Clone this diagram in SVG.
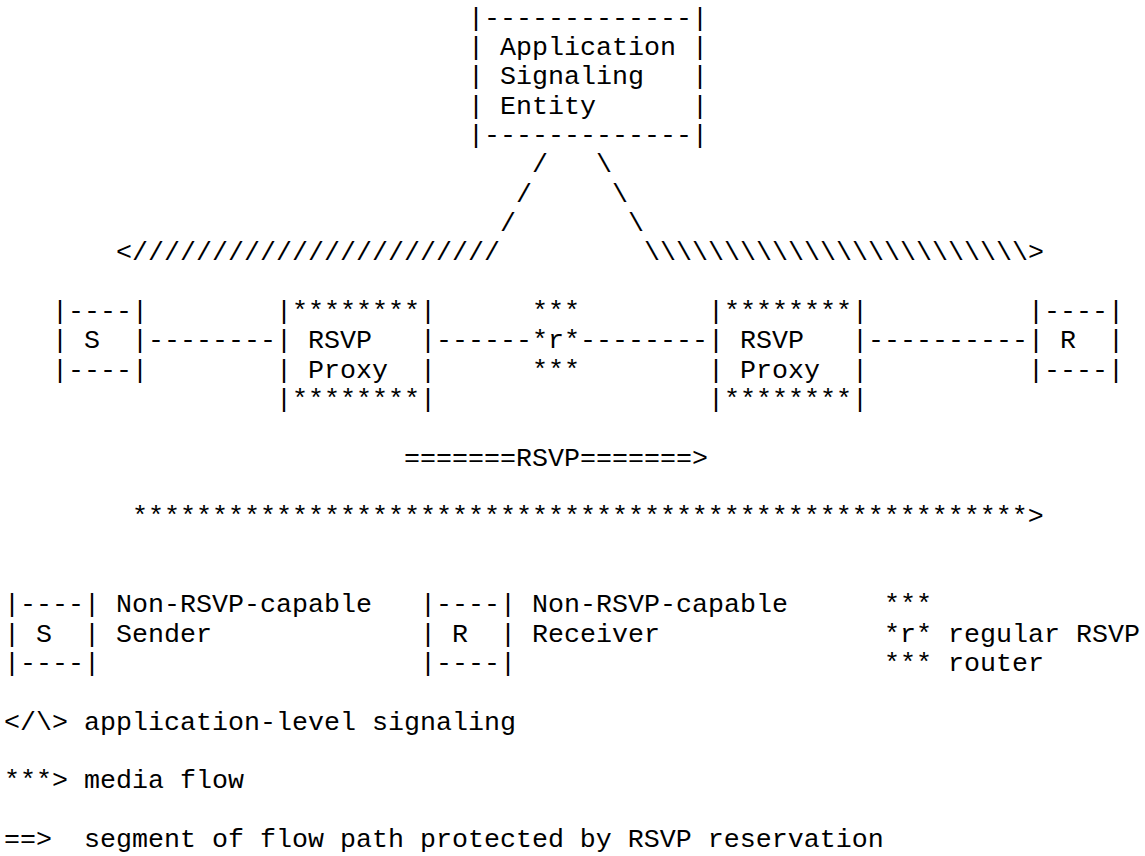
<svg xmlns="http://www.w3.org/2000/svg" width="1145" height="856" viewBox="0 0 1145 856" xml:space="preserve">
<style>
text { font-family: "Liberation Mono", "Courier New", monospace; font-size: 26.67px; fill: #000; white-space: pre; }
</style>
<rect x="0" y="0" width="1145" height="856" fill="#ffffff"/>
<g id="app-signaling-entity">
<text x="468" y="25.7">|-------------|</text>
<text x="468" y="55">| Application |</text>
<text x="468" y="84.4">| Signaling   |</text>
<text x="468" y="113.7">| Entity      |</text>
<text x="468" y="143">|-------------|</text>
</g>
<g id="connectors">
<text x="532" y="172.4">/   \</text>
<text x="516" y="201.7">/     \</text>
<text x="500" y="231">/       \</text>
<text x="116" y="260.3">&lt;///////////////////////</text>
<text x="644" y="260.3">\\\\\\\\\\\\\\\\\\\\\\\\&gt;</text>
<text x="148" y="348.3">--------</text>
<text x="436" y="348.3">------</text>
<text x="580" y="348.3">--------</text>
<text x="868" y="348.3">----------</text>
<text x="404" y="465.7">=======RSVP=======&gt;</text>
<text x="132" y="524.3">********************************************************&gt;</text>
</g>
<g id="sender">
<text x="52" y="319">|----|</text>
<text x="52" y="348.3">| S  |</text>
<text x="52" y="377.7">|----|</text>
</g>
<g id="rsvp-proxy-1">
<text x="276" y="319">|********|</text>
<text x="276" y="348.3">| RSVP   |</text>
<text x="276" y="377.7">| Proxy  |</text>
<text x="276" y="407">|********|</text>
</g>
<g id="router">
<text x="532" y="319">***</text>
<text x="532" y="348.3">*r*</text>
<text x="532" y="377.7">***</text>
</g>
<g id="rsvp-proxy-2">
<text x="708" y="319">|********|</text>
<text x="708" y="348.3">| RSVP   |</text>
<text x="708" y="377.7">| Proxy  |</text>
<text x="708" y="407">|********|</text>
</g>
<g id="receiver">
<text x="1028" y="319">|----|</text>
<text x="1028" y="348.3">| R  |</text>
<text x="1028" y="377.7">|----|</text>
</g>
<g id="legend">
<text x="4" y="612.3">|----| Non-RSVP-capable</text>
<text x="4" y="641.6">| S  | Sender</text>
<text x="4" y="671">|----|</text>
<text x="420" y="612.3">|----| Non-RSVP-capable</text>
<text x="420" y="641.6">| R  | Receiver</text>
<text x="420" y="671">|----|</text>
<text x="884" y="612.3">***</text>
<text x="884" y="641.6">*r* regular RSVP</text>
<text x="884" y="671">*** router</text>
<text x="4" y="729.6">&lt;/\&gt; application-level signaling</text>
<text x="4" y="788.3">***&gt; media flow</text>
<text x="4" y="847">==&gt;  segment of flow path protected by RSVP reservation</text>
</g>
</svg>
